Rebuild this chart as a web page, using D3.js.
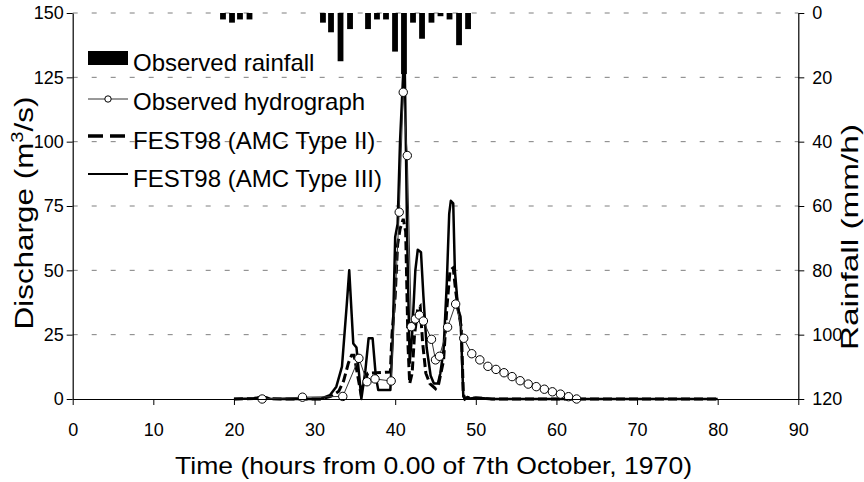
<!DOCTYPE html>
<html>
<head>
<meta charset="utf-8">
<script src="https://cdn.jsdelivr.net/npm/d3@7"></script>
<style>
  body { margin: 0; background: #fff; }
  svg { font-family: "Liberation Sans", Arial, sans-serif; }
</style>
</head>
<body>
<svg id="chart" width="864" height="482"></svg>
<script>
// rainfall (mm/h), bar centre times in hours
var rainTime = [18.64, 19.76, 20.75, 21.93, 31.04, 32.04, 33.22, 34.40, 36.63, 37.74,
                38.86, 39.98, 41.09, 42.21, 43.33, 44.5, 45.62, 46.74, 47.92, 49.04];
var rainVal  = [2, 3, 2, 2, 3, 6, 15, 5, 5, 2,
                2, 12, 19, 3, 8, 3, 1, 2, 10, 5];

// observed hydrograph (m3/s)
var obsTime = [23.5, 28.5, 33.5, 35.5, 36.5, 37.5, 39.5, 40.5, 41.0, 41.5,
               42.0, 42.5, 43.0, 43.5, 44.5, 45.0, 45.5, 46.5, 47.5, 48.5,
               49.5, 50.5, 51.5, 52.5, 53.5, 54.5, 55.5, 56.5, 57.5, 58.5,
               59.5, 60.5, 61.5, 62.5];
var obsQ    = [0, 0.7, 1, 15.8, 6.7, 7.8, 7, 72.6, 119.2, 94.6,
               28.1, 31.1, 32.6, 30.3, 23.2, 15.2, 16.6, 27.9, 36.9, 23.6,
               17.6, 15.2, 12.7, 11.5, 10.2, 8.7, 7.1, 5.8, 4.8, 3.8,
               2.8, 1.9, 0.9, 0];

// FEST98 AMC Type II (dashed)
var amc2Time = [20, 22.5, 23.3, 23.8, 24.5, 26, 30.7, 32, 33, 33.6,
                34.2, 34.6, 34.9, 35.3, 35.7, 36.1, 36.6, 39.4, 39.6, 40.0,
                40.3, 40.6, 41.0, 41.3, 41.6, 41.8, 42.1, 42.4, 42.8, 43.1,
                43.4, 43.8, 44.3, 45.0, 45.4, 46.0, 46.4, 46.8, 47.2, 47.5,
                47.9, 48.2, 48.45, 48.65, 49.0, 49.3, 50, 51, 52, 80];
var amc2Q    = [0, 0.2, 0.8, 0.6, 0.1, 0, 0, 1, 3, 7,
                14, 17, 17, 10, 3, 6, 10, 10.5, 25, 40,
                60, 66, 70, 65, 20, 6, 10, 25, 35, 36,
                22, 10, 6, 4, 6, 15, 35, 50, 51, 42,
                33, 28, 2, 0, 0.6, 0.2, 0.4, 0.2, 0, 0];

// FEST98 AMC Type III (solid)
var amc3Time = [20, 22.5, 23.3, 23.8, 24.5, 26, 30.7, 31.9, 32.7, 33.4,
                34.0, 34.3, 34.6, 34.8, 35.2, 35.55, 35.8, 36.3, 36.7, 37.2,
                37.6, 37.9, 39.4, 39.7, 40.0, 40.3, 40.6, 41.0, 41.2, 41.5,
                41.8, 42.1, 42.5, 42.8, 43.2, 43.5, 43.9, 44.4, 44.8, 45.3,
                45.6, 46.0, 46.4, 46.7, 46.9, 47.2, 47.4, 47.8, 48.1, 48.45,
                48.65, 49.0, 49.3, 50, 51, 52, 80];
var amc3Q    = [0, 0.2, 0.9, 0.7, 0.1, 0, 0, 1.5, 4.8, 12.6,
                37, 50, 33, 21.6, 20, 8.7, 0, 11, 23.6, 23.6,
                8.7, 3.5, 3.5, 24, 63, 68, 100, 127, 126, 60,
                14, 25, 50, 58, 57, 40, 20, 9, 6, 6,
                10, 19, 45, 72, 77, 76, 50, 35, 32, 1,
                0, 0.8, 0.2, 0.5, 0.3, 0, 0];

var timeTicks = [0, 10, 20, 30, 40, 50, 60, 70, 80, 90];
var qTicks = [0, 25, 50, 75, 100, 125, 150];
var rainTicks = [0, 20, 40, 60, 80, 100, 120];

var legendLabels = ["Observed rainfall", "Observed hydrograph",
                    "FEST98 (AMC Type II)", "FEST98 (AMC Type III)"];

var svg = d3.select("#chart");

var x = d3.scaleLinear().domain([0, 90]).range([72.7, 798.3]);
var yq = d3.scaleLinear().domain([0, 150]).range([399, 13]);
var yr = d3.scaleLinear().domain([0, 120]).range([13, 399]);

// dashed gridlines
svg.append("g")
  .selectAll("line")
  .data(qTicks.slice(1))
  .enter().append("line")
    .attr("x1", x(0))
    .attr("x2", x(90))
    .attr("y1", function(d) { return yq(d); })
    .attr("y2", function(d) { return yq(d); })
    .style("stroke", "#7f7f7f")
    .style("stroke-width", 1)
    .style("stroke-dasharray", "5,14");

// rainfall bars hanging from the top
var barW = x(0.72) - x(0);
svg.append("g")
  .selectAll("rect")
  .data(rainTime)
  .enter().append("rect")
    .attr("x", function(d) { return x(d) - barW / 2; })
    .attr("y", yr(0))
    .attr("width", barW)
    .attr("height", function(d, i) { return yr(rainVal[i]) - yr(0); })
    .style("fill", "#000");

var line = d3.line()
  .x(function(d) { return x(d[0]); })
  .y(function(d) { return yq(d[1]); });

var amc2 = d3.zip(amc2Time, amc2Q);
var amc3 = d3.zip(amc3Time, amc3Q);
var obs = d3.zip(obsTime, obsQ);

svg.append("path")
  .datum(amc2)
  .attr("d", line)
  .style("fill", "none")
  .style("stroke", "#000")
  .style("stroke-width", 3)
  .style("stroke-dasharray", "9,4");

svg.append("path")
  .datum(amc3)
  .attr("d", line)
  .style("fill", "none")
  .style("stroke", "#000")
  .style("stroke-width", 2.5)
  .style("stroke-linejoin", "round");

svg.append("path")
  .datum(obs)
  .attr("d", line)
  .style("fill", "none")
  .style("stroke", "#333")
  .style("stroke-width", 1);

svg.append("g")
  .selectAll("circle")
  .data(obs)
  .enter().append("circle")
    .attr("cx", function(d) { return x(d[0]); })
    .attr("cy", function(d) { return yq(d[1]); })
    .attr("r", 4.2)
    .style("fill", "#fff")
    .style("stroke", "#000")
    .style("stroke-width", 1);

// axes
var axL = svg.append("g")
  .attr("transform", "translate(" + x(0) + ",0)")
  .call(d3.axisLeft(yq).tickValues(qTicks).tickSize(6).tickSizeOuter(0).tickPadding(3));

var axR = svg.append("g")
  .attr("transform", "translate(" + x(90) + ",0)")
  .call(d3.axisRight(yr).tickValues(rainTicks).tickSize(6).tickSizeOuter(0).tickPadding(8));

var axB = svg.append("g")
  .attr("transform", "translate(0," + yq(0) + ")")
  .call(d3.axisBottom(x).tickValues(timeTicks).tickSize(6).tickSizeOuter(0).tickPadding(18));

[axL, axR, axB].forEach(function(a) {
  a.selectAll("text").style("font-size", "18px").style("font-family", "Liberation Sans, Arial, sans-serif").style("fill", "#000");
  a.selectAll("line").style("stroke", "#000");
  a.select(".domain").style("stroke", "#000").style("stroke-width", 1.2);
});

// axis titles
svg.append("text")
  .attr("x", 433.5)
  .attr("y", 474)
  .attr("text-anchor", "middle")
  .attr("textLength", 517)
  .attr("lengthAdjust", "spacingAndGlyphs")
  .style("font-size", "24px")
  .text("Time (hours from 0.00 of 7th October, 1970)");

var tq = svg.append("text")
  .attr("transform", "translate(33,213)rotate(-90)")
  .attr("text-anchor", "middle")
  .attr("textLength", 233)
  .attr("lengthAdjust", "spacingAndGlyphs")
  .style("font-size", "25px");
tq.append("tspan").text("Discharge (m");
tq.append("tspan").attr("dy", -10).style("font-size", "16px").text("3");
tq.append("tspan").attr("dy", 10).text("/s)");

svg.append("text")
  .attr("transform", "translate(858,237)rotate(-90)")
  .attr("text-anchor", "middle")
  .attr("textLength", 226)
  .attr("lengthAdjust", "spacingAndGlyphs")
  .style("font-size", "24px")
  .text("Rainfall (mm/h)");

// legend
var leg = svg.append("g");
var legBase = [71, 110, 149, 187];
var lx0 = 88, lx1 = 128;

leg.selectAll("text")
  .data(legendLabels)
  .enter().append("text")
    .attr("x", 133)
    .attr("y", function(d, i) { return legBase[i]; })
    .style("font-size", "24px")
    .text(function(d) { return d; });

leg.append("rect")
  .attr("x", lx0).attr("y", legBase[0] - 20)
  .attr("width", lx1 - lx0).attr("height", 14)
  .style("fill", "#000");

leg.append("line")
  .attr("x1", lx0).attr("x2", lx1)
  .attr("y1", legBase[1] - 11).attr("y2", legBase[1] - 11)
  .style("stroke", "#333").style("stroke-width", 1);
leg.append("circle")
  .attr("cx", (lx0 + lx1) / 2).attr("cy", legBase[1] - 11)
  .attr("r", 3.2)
  .style("fill", "#fff").style("stroke", "#000");

leg.append("line")
  .attr("x1", lx0).attr("x2", lx1)
  .attr("y1", legBase[2] - 13).attr("y2", legBase[2] - 13)
  .style("stroke", "#000").style("stroke-width", 3.5)
  .style("stroke-dasharray", "15,7");

leg.append("line")
  .attr("x1", lx0).attr("x2", lx1)
  .attr("y1", legBase[3] - 13).attr("y2", legBase[3] - 13)
  .style("stroke", "#000").style("stroke-width", 2);
</script>
</body>
</html>
